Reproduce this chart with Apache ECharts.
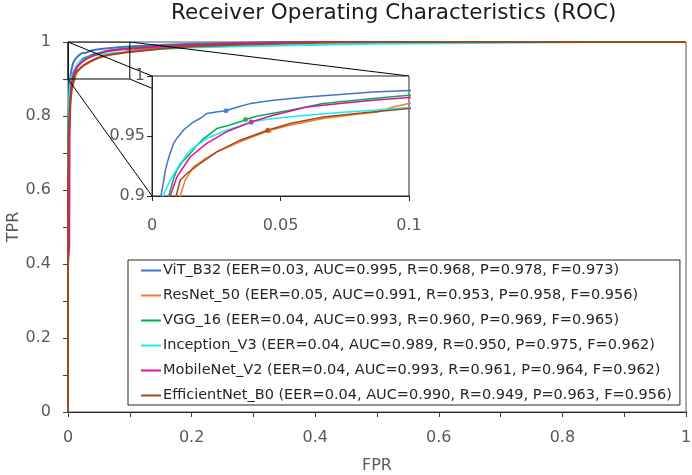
<!DOCTYPE html>
<html>
<head>
<meta charset="utf-8">
<script src="https://cdn.jsdelivr.net/npm/echarts@6/dist/echarts.min.js"></script>
<style>
  html, body { margin: 0; padding: 0; background: #fff; }
  #chart { width: 692px; height: 475px; }
</style>
</head>
<body>
<div id="chart"></div>
<script>
// models and their scores (legend text)
var modelNames = ['ViT_B32', 'ResNet_50', 'VGG_16', 'Inception_V3', 'MobileNet_V2', 'EfficientNet_B0'];
var eerVals = [0.03, 0.05, 0.04, 0.04, 0.04, 0.04];
var aucVals = [0.995, 0.991, 0.993, 0.989, 0.993, 0.990];
var recallVals = [0.968, 0.953, 0.960, 0.950, 0.961, 0.949];
var precVals = [0.978, 0.958, 0.969, 0.975, 0.964, 0.963];
var f1Vals = [0.973, 0.956, 0.965, 0.962, 0.962, 0.956];
var colors = ['#3f74cc', '#ed7d31', '#00b050', '#22e8f2', '#e0109b', '#9e4a1c'];

// ROC curves, [FPR, TPR]
var rocViT = [[0,0],[0,0.55],[0.0008,0.8],[0.002,0.87],[0.0035,0.9],[0.0045,0.912],[0.0052,0.9216],[0.0065,0.932],[0.0084,0.9438],[0.010,0.949],[0.0123,0.955],[0.0145,0.959],[0.0162,0.9618],[0.019,0.965],[0.0213,0.9687],[0.025,0.970],[0.0288,0.971],[0.033,0.974],[0.0382,0.977],[0.0472,0.9798],[0.0602,0.9825],[0.0731,0.9845],[0.086,0.9867],[0.1,0.988],[0.15,0.992],[0.2,0.995],[0.28,0.998],[0.36,1],[1,1]];
var rocResNet = [[0,0],[0,0.5],[0.001,0.7],[0.003,0.82],[0.006,0.87],[0.009,0.89],[0.011,0.9],[0.0129,0.9133],[0.0162,0.9244],[0.02,0.93],[0.0252,0.9368],[0.03,0.941],[0.0343,0.9452],[0.04,0.95],[0.0459,0.9548],[0.0537,0.959],[0.0666,0.9645],[0.0796,0.9681],[0.088,0.970],[0.0938,0.9742],[0.1,0.977],[0.15,0.984],[0.2,0.989],[0.3,0.995],[0.38,0.998],[0.45,1],[1,1]];
var rocVGG = [[0,0],[0,0.6],[0.001,0.78],[0.003,0.85],[0.005,0.885],[0.0065,0.9],[0.0085,0.915],[0.0097,0.9216],[0.012,0.929],[0.0149,0.9355],[0.017,0.941],[0.0194,0.9465],[0.0252,0.9562],[0.03,0.959],[0.0343,0.9618],[0.0364,0.9637],[0.0407,0.9665],[0.0537,0.9715],[0.0666,0.977],[0.086,0.9812],[0.1,0.984],[0.15,0.989],[0.2,0.993],[0.3,0.997],[0.4,1],[1,1]];
var rocInception = [[0,0],[0,0.5],[0.001,0.75],[0.002,0.84],[0.003,0.875],[0.0043,0.9],[0.0071,0.9133],[0.011,0.9271],[0.0149,0.9382],[0.0213,0.9479],[0.029,0.9548],[0.0388,0.9618],[0.0472,0.9645],[0.0602,0.9673],[0.0731,0.9695],[0.086,0.9715],[0.1,0.9737],[0.15,0.981],[0.2,0.985],[0.3,0.989],[0.5,0.995],[0.7,0.998],[0.85,1],[1,1]];
var rocMobileNet = [[0,0],[0,0.4],[0.002,0.45],[0.0025,0.75],[0.004,0.85],[0.0055,0.885],[0.0071,0.9],[0.0097,0.916],[0.0149,0.9327],[0.0213,0.9438],[0.029,0.9535],[0.0388,0.9618],[0.0472,0.9673],[0.0602,0.9742],[0.0731,0.977],[0.086,0.9798],[0.1,0.982],[0.15,0.988],[0.2,0.992],[0.3,0.997],[0.4,1],[1,1]];
var rocEfficientNet = [[0,0],[0,0.6],[0.001,0.75],[0.003,0.83],[0.006,0.875],[0.0094,0.9],[0.011,0.9133],[0.0136,0.9188],[0.0188,0.9271],[0.0252,0.9368],[0.0343,0.9465],[0.045,0.9548],[0.0537,0.9604],[0.0666,0.9659],[0.0796,0.9687],[0.1,0.9729],[0.15,0.982],[0.2,0.988],[0.3,0.994],[0.4,0.998],[0.5,1],[1,1]];
var rocCurves = [rocViT, rocResNet, rocVGG, rocInception, rocMobileNet, rocEfficientNet];

// EER operating points (marked in the zoomed view)
var eerPoints = [[0.0288,0.971],[0.0457,0.9545],[0.0364,0.9637],[0.0386,0.9615],[0.0386,0.9616],[0.045,0.9548]];

// zoomed region [fpr0, fpr1, tpr0, tpr1]
var zoomBox = [0, 0.1, 0.9, 1];

var mainGrid = {left: 68, top: 42, width: 618, height: 370};
var insetGrid = {left: 152, top: 76, width: 257, height: 120};

var FONT = 'DejaVu Sans';
var GREY = '#595959';

function fmt(v, d) { return v.toFixed(d); }
function legendName(i) {
    return modelNames[i] + ' (EER=' + fmt(eerVals[i], 2) + ', AUC=' + fmt(aucVals[i], 3) +
        ', R=' + fmt(recallVals[i], 3) + ', P=' + fmt(precVals[i], 3) + ', F=' + fmt(f1Vals[i], 3) + ')';
}
// pixel -> main axis values
function toMain(px, py) {
    return [(px - mainGrid.left) / mainGrid.width, 1 - (py - mainGrid.top) / mainGrid.height];
}

var names = modelNames.map(function (m, i) { return legendName(i); });

var series = [];
// main curves
for (let i = 0; i < rocCurves.length; i++) {
    series.push({
        type: 'line', name: names[i], xAxisIndex: 0, yAxisIndex: 0,
        data: rocCurves[i], showSymbol: false, symbol: 'none', z: 2,
        lineStyle: {color: colors[i], width: 2}, itemStyle: {color: colors[i]},
        silent: true, animation: false
    });
}
// zoom box
var zb = zoomBox;
series.push({
    type: 'line', xAxisIndex: 0, yAxisIndex: 0, z: 3, symbol: 'none', silent: true, animation: false,
    data: [[zb[0], zb[2]], [zb[1], zb[2]], [zb[1], zb[3]], [zb[0], zb[3]], [zb[0], zb[2]]],
    lineStyle: {color: '#000', width: 1}
});
// connector lines from the zoom box corners to the inset corners
var iTL = toMain(insetGrid.left, insetGrid.top);
var iBR = toMain(insetGrid.left + insetGrid.width, insetGrid.top + insetGrid.height);
series.push({
    type: 'lines', coordinateSystem: 'cartesian2d', xAxisIndex: 0, yAxisIndex: 0, z: 3, silent: true, animation: false,
    lineStyle: {color: '#000', width: 1, opacity: 1},
    data: [
        {coords: [[zb[0], zb[3]], [iTL[0], iTL[1]]]},
        {coords: [[zb[1], zb[3]], [iBR[0], iTL[1]]]},
        {coords: [[zb[0], zb[2]], [iTL[0], iBR[1]]]},
        {coords: [[zb[1], zb[2]], [iBR[0], iBR[1]]]}
    ]
});
// inset curves
for (let i = 0; i < rocCurves.length; i++) {
    series.push({
        type: 'line', name: names[i], xAxisIndex: 1, yAxisIndex: 1,
        data: rocCurves[i], showSymbol: false, symbol: 'none', z: 7, clip: true,
        lineStyle: {color: colors[i], width: 1.5}, itemStyle: {color: colors[i]},
        silent: true, animation: false
    });
}
// EER markers
for (let i = 0; i < eerPoints.length; i++) {
    series.push({
        type: 'scatter', name: names[i], xAxisIndex: 1, yAxisIndex: 1, z: 8,
        data: [eerPoints[i]], symbol: 'circle', symbolSize: 5,
        itemStyle: {color: colors[i]}, silent: true, animation: false
    });
}

var tickLabel = {color: GREY, fontFamily: FONT, fontSize: 16};

var option = {
    backgroundColor: '#fff',
    animation: false,
    title: {
        text: 'Receiver Operating Characteristics (ROC)',
        left: 166, top: -3,
        textStyle: {fontFamily: FONT, fontSize: 21.5, fontWeight: 'normal', color: '#1a1a1a'}
    },
    legend: {
        data: names,
        orient: 'vertical',
        left: 128, top: 260,
        padding: [2, 8, 1, 13],
        itemGap: 8,
        itemWidth: 20, itemHeight: 2,
        icon: 'rect',
        borderColor: '#262626', borderWidth: 1,
        backgroundColor: '#fff',
        selectedMode: false,
        z: 10,
        textStyle: {fontFamily: FONT, fontSize: 14.5, color: '#262626', lineHeight: 17, padding: [0, 0, 0, -3]}
    },
    grid: [
        Object.assign({show: true, borderColor: GREY, borderWidth: 1, backgroundColor: 'transparent', z: 0, outerBoundsMode: 'none', containLabel: false}, mainGrid),
        Object.assign({show: true, borderColor: '#262626', borderWidth: 1, backgroundColor: '#fff', z: 5, outerBoundsMode: 'none', containLabel: false}, insetGrid)
    ],
    xAxis: [
        {
            type: 'value', gridIndex: 0, min: 0, max: 1, interval: 0.1,
            name: 'FPR', nameLocation: 'middle', nameGap: 46, nameMoveOverlap: false,
            nameTextStyle: {color: GREY, fontFamily: FONT, fontSize: 16},
            axisLine: {show: true, onZero: false, lineStyle: {color: '#262626', width: 1}},
            axisTick: {show: true, length: 5, lineStyle: {color: '#404040'}},
            splitLine: {show: false},
            axisLabel: Object.assign({margin: 18, formatter: function (v) {
                var k = Math.round(v * 10);
                return k % 2 === 0 ? String(k / 10) : '';
            }}, tickLabel)
        },
        {
            type: 'value', gridIndex: 1, min: 0, max: 0.1, interval: 0.05, z: 6,
            axisLine: {show: true, onZero: false, lineStyle: {color: '#262626', width: 1}},
            axisTick: {show: true, length: 5, lineStyle: {color: '#262626'}},
            splitLine: {show: false},
            axisLabel: Object.assign({margin: 22, formatter: function (v) { return String(+v.toFixed(2)); }}, tickLabel)
        }
    ],
    yAxis: [
        {
            type: 'value', gridIndex: 0, min: 0, max: 1, interval: 0.1,
            name: 'TPR', nameLocation: 'middle', nameGap: 46, nameMoveOverlap: false,
            nameTextStyle: {color: GREY, fontFamily: FONT, fontSize: 16},
            axisLine: {show: true, onZero: false, lineStyle: {color: '#262626', width: 1}},
            axisTick: {show: true, length: 5, lineStyle: {color: '#404040'}},
            splitLine: {show: false},
            axisLabel: Object.assign({margin: 17, formatter: function (v) {
                var k = Math.round(v * 10);
                return k % 2 === 0 ? String(k / 10) : '';
            }}, tickLabel)
        },
        {
            type: 'value', gridIndex: 1, min: 0.9, max: 1, interval: 0.05, z: 6,
            axisLine: {show: true, onZero: false, lineStyle: {color: '#262626', width: 1}},
            axisTick: {show: true, length: 5, lineStyle: {color: '#262626'}},
            splitLine: {show: false},
            axisLabel: Object.assign({margin: 7, formatter: function (v) { return String(+v.toFixed(2)); }}, tickLabel)
        }
    ],
    series: series
};

var myChart = echarts.init(document.getElementById('chart'), null, {renderer: 'canvas'});
myChart.setOption(option);
</script>
</body>
</html>
